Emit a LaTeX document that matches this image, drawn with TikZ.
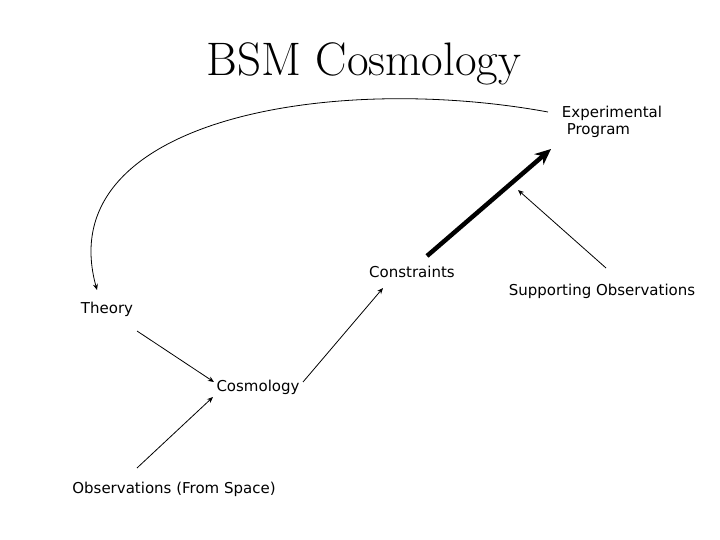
\documentclass[tikz,border=0pt]{standalone}
\usepackage{fontspec}
\setsansfont{DejaVu Sans}
\usetikzlibrary{arrows.meta}
\begin{document}
\begin{tikzpicture}[x=1pt,y=-1pt,
  lbl/.style={font=\sffamily\fontsize{15}{17}\selectfont, inner sep=1pt, align=left},
  conn/.style={-{Stealth[length=6pt,width=5pt]}, line width=0.8pt}]
\useasboundingbox (0,0) rectangle (720,540);
\node[font=\fontsize{47}{52}\selectfont] (title) at (364,64) {BSM Cosmology};
\node[lbl] (exp) at (612,122) {Experimental\\\ Program};
\node[lbl] (con) at (412,272) {Constraints};
\node[lbl] (sup) at (602,291) {Supporting Observations};
\node[lbl] (th) at (107,309) {Theory};
\node[lbl] (cos) at (258,387) {Cosmology};
\node[lbl] (obs) at (174,489) {Observations (From Space)};
\coordinate (a1) at (137,331); \coordinate (a2) at (214,382);
\coordinate (b1) at (137,468); \coordinate (b2) at (213,397);
\coordinate (c1) at (303,382); \coordinate (c2) at (383,288);
\coordinate (d1) at (427,256); \coordinate (d2) at (551,149);
\coordinate (e1) at (606,268); \coordinate (e2) at (518,190);
\coordinate (f1) at (548,112); \coordinate (f2) at (97,290);
\draw[conn] (a1) -- (a2);
\draw[conn] (b1) -- (b2);
\draw[conn] (c1) -- (c2);
\draw[conn] (e1) -- (e2);
\draw[-{Stealth[length=16pt,width=14pt]}, line width=4.5pt] (d1) -- (d2);
\draw[conn] (f1) .. controls (330,72) and (50,120) .. (f2);
\end{tikzpicture}
\end{document}
